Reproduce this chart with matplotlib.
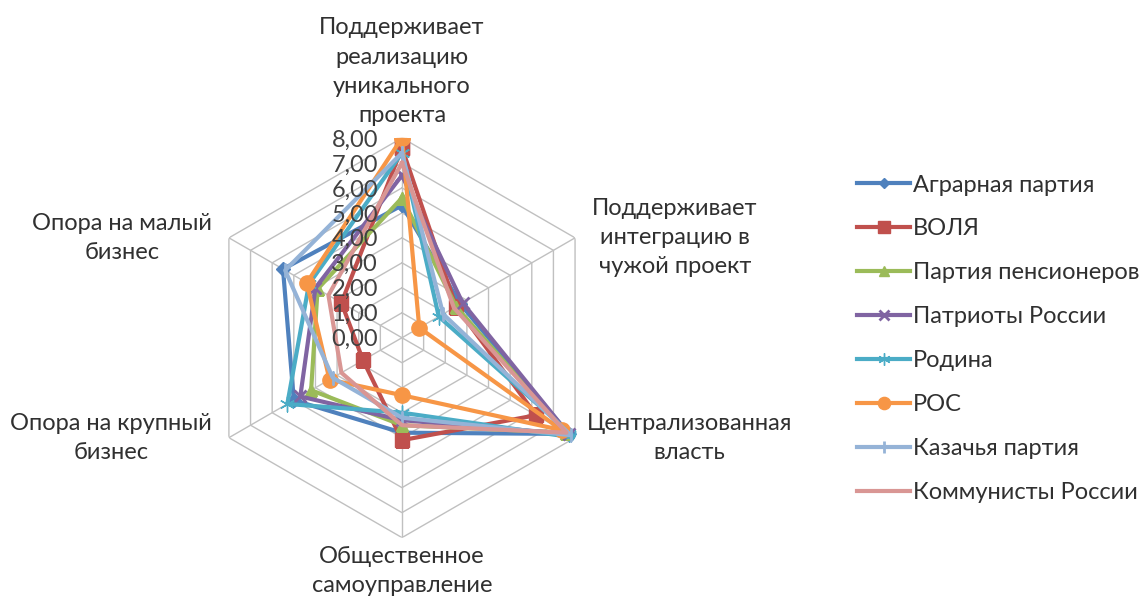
import numpy as np
import matplotlib.pyplot as plt
from matplotlib.lines import Line2D

# ==============================
# Data
# ==============================
axes_labels = [
    "Поддерживает\nреализацию\nуникального\nпроекта",
    "Поддерживает\nинтеграцию в\nчужой проект",
    "Централизованная\nвласть",
    "Общественное\nсамоуправление",
    "Опора на крупный\nбизнес",
    "Опора на малый\nбизнес",
]
parties = [
    "Аграрная партия",
    "ВОЛЯ",
    "Партия пенсионеров",
    "Патриоты России",
    "Родина",
    "РОС",
    "Казачья партия",
    "Коммунисты России",
]
agrarian = [5.3, 2.7, 7.7, 3.8, 5.0, 5.5]
volya = [7.6, 2.5, 6.2, 4.1, 1.8, 2.8]
pensioners = [5.6, 2.5, 7.6, 3.5, 4.2, 3.9]
patriots = [6.5, 2.8, 7.7, 3.3, 4.7, 4.0]
rodina = [7.4, 1.7, 8.0, 3.0, 5.3, 4.3]
ros = [8.0, 0.8, 7.4, 2.3, 3.35, 4.4]
cossack = [7.4, 1.9, 7.8, 3.2, 3.2, 5.4]
communists = [7.0, 2.4, 7.6, 3.5, 2.8, 3.4]
series = [agrarian, volya, pensioners, patriots, rodina, ros, cossack, communists]
ticks = [0, 1, 2, 3, 4, 5, 6, 7, 8]

colors = ["#4F81BD", "#C0504D", "#9BBB59", "#8064A2", "#4BACC6", "#F79646", "#95B3D7", "#D99694"]
markers = ["D", "s", "^", "x", (6, 2, 0), "o", "|", None]
msizes = [7, 10, 9, 9, 11, 11, 10, 0]

plt.rcParams["font.family"] = ["Lato", "DejaVu Sans"]
FS = 17

fig = plt.figure(figsize=(11.42, 6.01), dpi=100)
ax = fig.add_axes([0.177, 0.105, 0.350, 0.666], projection="polar")
ax.set_theta_offset(np.pi / 2)
ax.set_theta_direction(-1)
ax.set_ylim(0, 8)
ax.grid(False)
ax.spines["polar"].set_visible(False)
ax.set_xticks([])
ax.set_yticks([])

n = len(axes_labels)
theta = np.linspace(0, 2 * np.pi, n, endpoint=False)
theta_c = np.append(theta, theta[0])

# hexagonal grid
for r in ticks[1:]:
    ax.plot(theta_c, [r] * (n + 1), color="#c0c0c0", lw=1.0, zorder=1)
for t in theta:
    ax.plot([t, t], [0, 8], color="#c0c0c0", lw=1.0, zorder=1)

# tick labels
for r in ticks:
    ax.annotate(f"{r},00", xy=(0, r), xytext=(-24, -2), textcoords="offset pixels",
                ha="right", va="center", fontsize=FS, color="#404040", zorder=5)

# series
for name, vals, c, m, ms in zip(parties, series, colors, markers, msizes):
    v = np.append(vals, vals[0])
    ax.plot(theta_c, v, color=c, lw=3.0, marker=m, markersize=ms,
            markeredgewidth=2 if m in ("x", "|") else 1, label=name, zorder=3)

# category labels
label_pos = [
    ((0, 12), "center", "bottom"),
    ((17, 0), "left", "center"),
    ((12, 0), "left", "center"),
    ((0, -8), "center", "top"),
    ((-17, 0), "right", "center"),
    ((-17, 0), "right", "center"),
]
for t, lab, (off, ha, va) in zip(theta, axes_labels, label_pos):
    ax.annotate(lab, xy=(t, 8), xytext=off, textcoords="offset pixels",
                ha=ha, va=va, multialignment="center", fontsize=FS,
                color="#303030", linespacing=1.48, annotation_clip=False)

handles = [Line2D([], [], color=c, lw=3.0, marker=m, markersize=ms * 0.8,
                  markeredgewidth=2 if m in ("x", "|") else 1)
           for c, m, ms in zip(colors, markers, msizes)]
fig.legend(handles, parties, loc="upper left", bbox_to_anchor=(0.732, 0.745),
           frameon=False, fontsize=FS, labelspacing=0.97, handlelength=2.25,
           handletextpad=0.1, labelcolor="#303030")

fig.savefig("out.png", dpi=100)
